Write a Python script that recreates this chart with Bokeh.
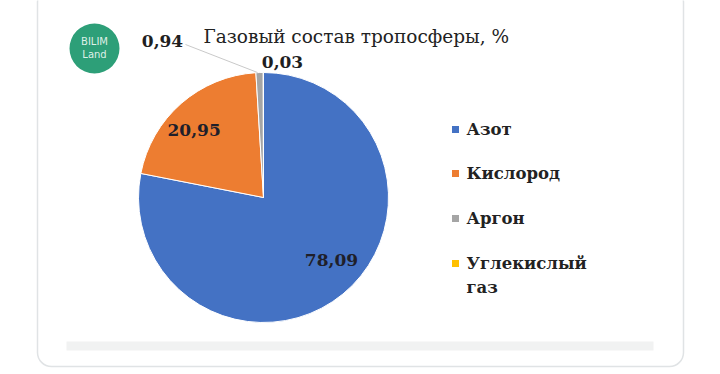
import math
from bokeh.plotting import figure
from bokeh.models import Range1d, ColumnDataSource
from bokeh.core.properties import value
from bokeh.embed import file_html
from bokeh.resources import INLINE

# ---- data ----
categories = ["Азот", "Кислород", "Аргон", "Углекислый газ"]
values = [78.09, 20.95, 0.94, 0.03]
labels = ["78,09", "20,95", "0,94", "0,03"]
colors = ["#4472C4", "#ED7D31", "#A5A5A5", "#FFC000"]
title = "Газовый состав тропосферы, %"

W, H = 704, 368
IMG_H = 374


def Y(img_y):
    return IMG_H - img_y


p = figure(width=W, height=H, output_backend="svg", toolbar_location=None,
           x_range=Range1d(0, W), y_range=Range1d(IMG_H - H, IMG_H),
           min_border=0, background_fill_color="white", border_fill_color="white")
p.axis.visible = False
p.grid.visible = False
p.outline_line_color = None

SERIF = value("DejaVu Serif")

# card
p.quad(left=37, right=683, top=Y(-12), bottom=Y(366), border_radius=14,
       fill_color="white", line_color="#e0e3e5", line_width=1.5)
# bottom light bar
p.quad(left=66, right=653, top=Y(341), bottom=Y(350), fill_color="#f1f2f2", line_color=None)

# logo
p.scatter(x=[94], y=[Y(48)], size=50, marker="circle", fill_color="#2d9f78", line_color=None)
p.text(x=[94, 94], y=[Y(41), Y(54)], text=["BILIM", "Land"], text_color="white",
       text_font=value("DejaVu Sans"), text_font_size="10px", text_align="center",
       text_baseline="middle", text_alpha=0.85)

# pie
cx, cy, R = 263, Y(197), 125
total = sum(values)
starts, ends, mids = [], [], []
cum = 0.0
for v in values:
    a0 = math.pi / 2 - 2 * math.pi * cum / total
    cum += v
    a1 = math.pi / 2 - 2 * math.pi * cum / total
    starts.append(a0)
    ends.append(a1)
    mids.append((a0 + a1) / 2)

src = ColumnDataSource(dict(start=starts, end=ends, color=colors, cat=categories))
p.wedge(x=cx, y=cy, radius=R, start_angle="start", end_angle="end", direction="clock",
        fill_color="color", line_color="white", line_width=1, source=src)

# inside labels
in_r = [0.78, 0.77]
in_dx = [6, -6]
in_dy = [13, -5]
lx = [cx + R * in_r[i] * math.cos(mids[i]) + in_dx[i] for i in range(2)]
ly = [cy + R * in_r[i] * math.sin(mids[i]) + in_dy[i] for i in range(2)]
p.text(x=lx, y=ly, text=labels[:2], text_font=SERIF, text_font_style="bold",
       text_font_size="17px", text_color="#1f1f2a", text_align="center", text_baseline="middle")

# outside labels with leader
p.line(x=[185, 257], y=[Y(44), Y(72)], line_color="#c9c9c9", line_width=1)
p.text(x=[162, 282], y=[Y(40), Y(61)], text=labels[2:], text_font=SERIF, text_font_style="bold",
       text_font_size="17px", text_color="#1f1f1f", text_align="center", text_baseline="middle")

# title
p.text(x=[203], y=[Y(36)], text=[title], text_font=SERIF, text_font_size="18.5px",
       text_color="#222222", text_align="left", text_baseline="middle")

# legend
leg_y = [129, 173, 218, 263]
p.scatter(x=[455] * 4, y=[Y(v) for v in leg_y], marker="square", size=7,
          fill_color=colors, line_color=None)
p.text(x=[466] * 4, y=[Y(v) + 10 for v in leg_y], text=[c.replace(" ", "\n") for c in categories],
       text_font=SERIF, text_font_style="bold", text_font_size="16.5px", text_color="#222222",
       text_align="left", text_baseline="top", text_line_height=1.3)

open("out.html", "w").write(file_html(p, INLINE))
